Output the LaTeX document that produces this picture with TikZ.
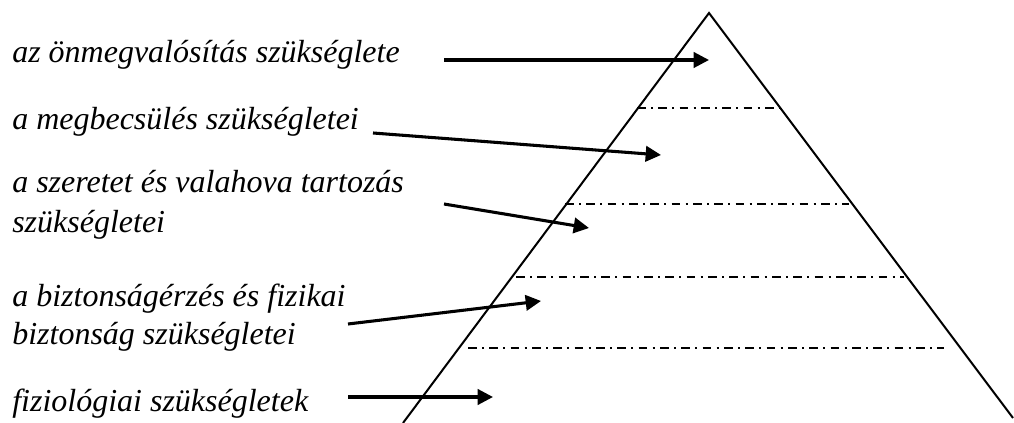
\documentclass[tikz,border=0pt]{standalone}
\usepackage{fontspec}
\setmainfont{Liberation Serif}
\usetikzlibrary{arrows.meta}
\begin{document}
\begin{tikzpicture}[x=0.75pt,y=-0.75pt,
  lbl/.style={anchor=base west,inner sep=0pt,font=\fontsize{24}{29}\selectfont\itshape},
  side/.style={line width=1.5pt},
  level/.style={line width=1.4pt,dash pattern=on 6.5pt off 4pt on 1.5pt off 4pt},
  pointer/.style={line width=2.3pt,-{Triangle[length=11.5pt,width=11.5pt]}}]
\useasboundingbox (0,0) rectangle (1014,423);
% pyramid
\coordinate (apex) at (709,13);
\coordinate (bl) at (403,423);
\coordinate (br) at (1013,418);
\draw[side] (bl) -- (apex) -- (br);
% level separators
\coordinate (d1a) at (637,108); \coordinate (d1b) at (780,108);
\coordinate (d2a) at (565,204); \coordinate (d2b) at (849,204);
\coordinate (d3a) at (516,277); \coordinate (d3b) at (904,277);
\coordinate (d4a) at (468,348); \coordinate (d4b) at (944,348);
\draw[level] (d1a) -- (d1b);
\draw[level] (d2a) -- (d2b);
\draw[level] (d3a) -- (d3b);
\draw[level] (d4a) -- (d4b);
% labels
\node[lbl] (t1) at (12,63) {az önmegvalósítás szükséglete};
\node[lbl] (t2) at (12,130) {a megbecsülés szükségletei};
\node[lbl] (t3a) at (12,193) {a szeretet és valahova tartozás};
\node[lbl] (t3b) at (12,233) {szükségletei};
\node[lbl] (t4a) at (12,307) {a biztonságérzés és fizikai};
\node[lbl] (t4b) at (12,345) {biztonság szükségletei};
\node[lbl] (t5) at (12,412) {fiziológiai szükségletek};
% arrows
\coordinate (a1s) at (444,60);  \coordinate (a1e) at (709,60);
\coordinate (a2s) at (373,133); \coordinate (a2e) at (661,155);
\coordinate (a3s) at (444,204); \coordinate (a3e) at (589,228);
\coordinate (a4s) at (348,324); \coordinate (a4e) at (541,301);
\coordinate (a5s) at (348,397); \coordinate (a5e) at (493,397);
\draw[pointer] (a1s) -- (a1e);
\draw[pointer] (a2s) -- (a2e);
\draw[pointer] (a3s) -- (a3e);
\draw[pointer] (a4s) -- (a4e);
\draw[pointer] (a5s) -- (a5e);
\end{tikzpicture}
\end{document}
